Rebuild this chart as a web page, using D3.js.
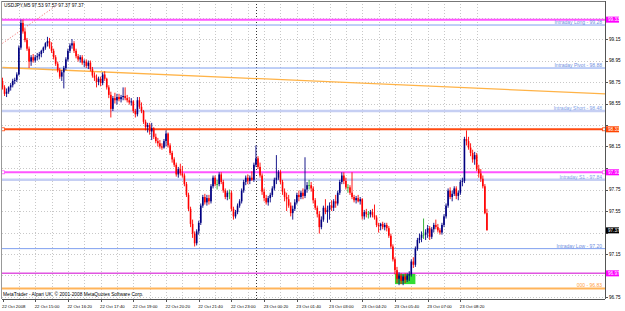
<!DOCTYPE html>
<html><head><meta charset="utf-8">
<script src="https://cdn.jsdelivr.net/npm/d3@7"></script>
<style>body{margin:0;background:#fff}svg{display:block}text{font-family:"Liberation Sans",Arial,sans-serif}</style>
</head><body><svg id="c" width="625" height="311"></svg>
<script>
const symbol = "USDJPY,M5";
const copyright = "MetaTrader - Alpari UK, \u00a9 2001-2008 MetaQuotes Software Corp.";
const dateLabels = ["22 Oct 2008","22 Oct 15:00","22 Oct 16:20","22 Oct 17:40","22 Oct 19:00","22 Oct 20:20","22 Oct 21:40","22 Oct 23:00","23 Oct 00:20","23 Oct 01:40","23 Oct 03:00","23 Oct 04:20","23 Oct 05:40","23 Oct 07:00","23 Oct 08:20"];
const priceTicks = [99.35,99.15,98.95,98.75,98.55,98.35,98.15,97.95,97.75,97.55,97.35,97.15,96.95,96.75];
const opens = [98.76,98.70,98.64,98.66,98.70,98.72,98.76,98.77,98.82,99.07,
99.30,99.22,99.14,99.06,98.94,98.98,98.95,98.98,98.99,99.01,
99.04,99.07,99.11,99.13,99.08,99.04,98.98,98.92,98.86,98.80,
98.84,98.88,98.96,99.04,99.09,99.11,99.04,98.99,98.96,98.98,
98.93,98.94,98.90,98.93,98.87,98.81,98.79,98.75,98.78,98.74,
98.82,98.78,98.70,98.63,98.50,98.60,98.58,98.61,98.59,98.61,
98.62,98.60,98.58,98.56,98.57,98.48,98.45,98.58,98.52,98.48,
98.38,98.33,98.35,98.29,98.32,98.24,98.20,98.18,98.15,98.14,
98.20,98.27,98.16,98.09,98.03,97.98,97.89,97.94,97.90,97.88,
97.80,97.70,97.57,97.43,97.34,97.25,97.36,97.44,97.60,97.68,
97.63,97.67,97.64,97.78,97.86,97.80,97.80,97.89,97.82,97.74,
97.68,97.72,97.72,97.57,97.50,97.54,97.60,97.64,97.74,97.82,
97.86,97.83,97.86,97.84,97.98,98.04,97.96,97.88,97.73,97.67,
97.63,97.67,97.70,97.76,97.84,97.86,97.91,97.82,97.73,97.68,
97.66,97.60,97.53,97.57,97.63,97.70,97.68,97.72,97.69,97.75,
97.79,97.79,97.76,97.65,97.58,97.52,97.40,97.47,97.58,97.54,
97.56,97.60,97.58,97.64,97.62,97.72,97.82,97.88,97.83,97.77,
97.77,97.72,97.68,97.65,97.67,97.64,97.66,97.50,97.54,97.52,
97.52,97.54,97.51,97.49,97.42,97.41,97.43,97.40,97.42,97.39,
97.32,97.22,97.10,97.00,96.92,96.95,96.90,96.94,96.91,96.95,
96.96,97.08,97.05,97.20,97.28,97.30,97.33,97.33,97.35,97.39,
97.31,97.38,97.42,97.40,97.37,97.35,97.42,97.50,97.60,97.74,
97.68,97.71,97.76,97.69,97.72,97.82,97.83,98.22,98.20,98.14,
98.09,98.03,98.07,97.94,97.90,97.85,97.78,97.53];
const highs = [98.79,98.72,98.69,98.71,98.74,98.78,98.79,98.84,99.09,99.33,
99.33,99.25,99.16,99.08,99.00,99.01,99.00,99.02,99.03,99.05,
99.08,99.12,99.17,99.16,99.12,99.06,99.00,98.94,98.88,98.86,
98.90,98.98,99.06,99.11,99.15,99.13,99.06,99.01,99.00,99.00,
98.96,98.96,98.95,98.95,98.89,98.84,98.82,98.80,98.80,98.84,
98.85,98.79,98.72,98.66,98.62,98.65,98.64,98.64,98.63,98.70,
98.70,98.63,98.61,98.60,98.58,98.50,98.61,98.61,98.56,98.49,
98.40,98.37,98.37,98.37,98.33,98.27,98.23,98.21,98.18,98.22,
98.30,98.28,98.18,98.11,98.05,98.00,97.96,97.99,97.97,97.90,
97.82,97.72,97.59,97.47,97.36,97.38,97.46,97.62,97.70,97.71,
97.70,97.70,97.80,97.88,97.88,97.84,97.91,97.91,97.84,97.76,
97.74,97.75,97.74,97.59,97.56,97.62,97.66,97.76,97.84,97.88,
97.89,97.88,97.92,98.00,98.16,98.06,98.00,97.90,97.76,97.70,
97.69,97.72,97.78,97.86,98.07,97.93,97.93,97.84,97.76,97.72,
97.70,97.63,97.60,97.66,97.72,97.74,97.74,97.76,98.05,97.82,
97.84,97.82,97.78,97.67,97.60,97.55,97.50,97.60,97.66,97.60,
97.63,97.65,97.66,97.70,97.74,97.84,97.91,97.91,97.86,97.80,
97.79,97.91,97.70,97.69,97.70,97.68,97.67,97.56,97.57,97.55,
97.56,97.57,97.61,97.51,97.44,97.44,97.45,97.44,97.44,97.41,
97.34,97.24,97.12,97.03,96.98,96.97,96.96,96.97,96.97,96.99,
97.10,97.12,97.22,97.30,97.34,97.36,97.48,97.38,97.42,97.41,
97.40,97.44,97.47,97.43,97.39,97.44,97.52,97.62,97.76,97.77,
97.74,97.78,97.78,97.74,97.84,97.86,98.24,98.30,98.24,98.18,
98.12,98.10,98.09,97.98,97.94,97.88,97.80,97.57];
const lows = [98.68,98.62,98.61,98.64,98.67,98.70,98.73,98.75,98.81,99.05,
99.20,99.12,99.04,98.88,98.90,98.93,98.93,98.95,98.96,98.98,
99.02,99.05,99.08,99.06,99.02,98.96,98.90,98.84,98.78,98.76,
98.69,98.86,98.94,99.02,99.06,99.02,98.97,98.94,98.93,98.91,
98.89,98.88,98.87,98.85,98.79,98.76,98.70,98.72,98.71,98.72,
98.76,98.68,98.60,98.42,98.48,98.55,98.54,98.57,98.56,98.58,
98.58,98.56,98.54,98.53,98.46,98.42,98.43,98.50,98.46,98.36,
98.30,98.28,98.26,98.21,98.22,98.18,98.15,98.13,98.12,98.13,
98.15,98.14,98.07,98.00,97.96,97.87,97.86,97.88,97.86,97.78,
97.68,97.55,97.40,97.30,97.22,97.23,97.33,97.42,97.58,97.61,
97.60,97.61,97.62,97.76,97.78,97.75,97.78,97.80,97.72,97.66,
97.65,97.66,97.55,97.47,97.48,97.52,97.58,97.62,97.72,97.79,
97.80,97.80,97.83,97.82,97.96,97.94,97.86,97.70,97.64,97.61,
97.60,97.63,97.68,97.74,97.80,97.84,97.80,97.70,97.64,97.55,
97.58,97.50,97.47,97.55,97.61,97.64,97.66,97.66,97.67,97.72,
97.75,97.73,97.62,97.56,97.49,97.34,97.38,97.45,97.52,97.44,
97.47,97.55,97.55,97.58,97.60,97.70,97.80,97.80,97.75,97.72,
97.70,97.66,97.63,97.62,97.63,97.61,97.47,97.47,97.49,97.48,
97.49,97.49,97.47,97.40,97.35,97.37,97.38,97.37,97.36,97.30,
97.20,97.08,96.96,96.88,96.86,96.87,96.86,96.88,96.89,96.90,
96.94,97.02,97.03,97.18,97.25,97.26,97.29,97.28,97.30,97.28,
97.29,97.35,97.38,97.35,97.33,97.33,97.40,97.48,97.58,97.66,
97.64,97.69,97.66,97.65,97.70,97.78,97.81,98.16,98.12,98.06,
98.00,97.98,97.92,97.86,97.82,97.76,97.52,97.37];
const closes = [98.70,98.64,98.66,98.70,98.72,98.76,98.77,98.82,99.07,99.30,
99.22,99.14,99.06,98.94,98.98,98.95,98.98,98.99,99.01,99.04,
99.07,99.11,99.13,99.08,99.04,98.98,98.92,98.86,98.80,98.84,
98.88,98.96,99.04,99.09,99.11,99.04,98.99,98.96,98.98,98.93,
98.94,98.90,98.93,98.87,98.81,98.79,98.75,98.78,98.74,98.82,
98.78,98.70,98.63,98.50,98.60,98.58,98.61,98.59,98.61,98.62,
98.60,98.58,98.56,98.57,98.48,98.45,98.58,98.52,98.48,98.38,
98.33,98.35,98.29,98.32,98.24,98.20,98.18,98.15,98.14,98.20,
98.27,98.16,98.09,98.03,97.98,97.89,97.94,97.90,97.88,97.80,
97.70,97.57,97.43,97.34,97.25,97.36,97.44,97.60,97.68,97.63,
97.67,97.64,97.78,97.86,97.80,97.80,97.89,97.82,97.74,97.68,
97.72,97.72,97.57,97.50,97.54,97.60,97.64,97.74,97.82,97.86,
97.83,97.86,97.84,97.98,98.04,97.96,97.88,97.73,97.67,97.63,
97.67,97.70,97.76,97.84,97.86,97.91,97.82,97.73,97.68,97.66,
97.60,97.53,97.57,97.63,97.70,97.68,97.72,97.69,97.75,97.79,
97.79,97.76,97.65,97.58,97.52,97.40,97.47,97.58,97.54,97.56,
97.60,97.58,97.64,97.62,97.72,97.82,97.88,97.83,97.77,97.77,
97.72,97.68,97.65,97.67,97.64,97.66,97.50,97.54,97.52,97.52,
97.54,97.51,97.49,97.42,97.41,97.43,97.40,97.42,97.39,97.32,
97.22,97.10,97.00,96.92,96.95,96.90,96.94,96.91,96.95,96.96,
97.08,97.05,97.20,97.28,97.30,97.33,97.33,97.35,97.39,97.31,
97.38,97.42,97.40,97.37,97.35,97.42,97.50,97.60,97.74,97.68,
97.71,97.76,97.69,97.72,97.82,97.83,98.22,98.20,98.14,98.09,
98.03,98.07,97.94,97.90,97.85,97.78,97.53,97.37];

// horizontal level objects
const levelNames  = ["hi","Intraday Long","Intraday Pivot","Intraday Short","res","mid","Intraday S1","Intraday Low","lo","000"];
const levelValues = [99.33, 99.28, 98.88, 98.48, 98.31, 97.91, 97.84, 97.20, 96.97, 96.83];
const levelKinds  = ["mag","pivot","pivot","pale","red","mag","pale","pivot","mag2","orange"];
// trend lines: [barIndex, price]
const trendOrange = [[0, 98.885],[295, 98.64]];
const trendRed    = [[0, 99.11],[27, 99.47]];
const boxBars   = [192, 202];
const boxPrices = [96.97, 96.87];
const separatorBar = 124;

const svg = d3.select("#c");
const L = 2, R = 605, T = 1, B = 299;
const x = d3.scaleLinear().domain([0, 1]).range([2.5, 2.5 + 2.044]);
const y = d3.scaleLinear().domain([99.15, 96.75]).range([39, 297]);

// grid
const g = svg.append("g").attr("shape-rendering","crispEdges");
g.selectAll(".hg").data(priceTicks).join("line")
  .attr("x1",L).attr("x2",R).attr("y1",d=>Math.round(y(d))+0.5).attr("y2",d=>Math.round(y(d))+0.5)
  .attr("stroke","#c8c8c8").attr("stroke-dasharray","1,2");
const vgrid = d3.range(0, 30).map(k=>k*8).filter(b=>x(b) < R && b>0);
g.selectAll(".vg").data(vgrid).join("line")
  .attr("x1",d=>Math.round(x(d))+0.5).attr("x2",d=>Math.round(x(d))+0.5).attr("y1",T).attr("y2",B)
  .attr("stroke","#c8c8c8").attr("stroke-dasharray","1,2");

// separator
g.append("line").attr("x1",Math.round(x(separatorBar))+0.5).attr("x2",Math.round(x(separatorBar))+0.5)
  .attr("y1",T).attr("y2",B).attr("stroke","#333").attr("stroke-dasharray","1,2");

// green box
svg.append("rect").attr("x",x(boxBars[0])).attr("y",y(boxPrices[0]))
  .attr("width",x(boxBars[1])-x(boxBars[0])).attr("height",y(boxPrices[1])-y(boxPrices[0]))
  .attr("fill","#33dd33");

// level lines
const kindStyle = {
  mag:{c:"#ff55ff",w:2,box:"#ff00ff"},
  mag2:{c:"#e055e0",w:1.5,box:"#ff00ff"},
  pivot:{c:"#7f9fef",w:1,text:"#6f8fe0"},
  pale:{c:"#c6cff3",w:2.5,text:"#7f9fe8"},
  red:{c:"#ff4a10",w:2,box:"#ff4500",sq:true},
  orange:{c:"#ffb45a",w:2,text:"#ffa040"}
};
const levels = levelValues.map((v,i)=>({v,name:levelNames[i],kind:levelKinds[i]}));
svg.append("g").selectAll("line").data(levels).join("line")
  .attr("x1",L).attr("x2",R).attr("y1",d=>y(d.v)).attr("y2",d=>y(d.v))
  .attr("stroke",d=>kindStyle[d.kind].c).attr("stroke-width",d=>kindStyle[d.kind].w);

// orange trendline
svg.append("line").attr("x1",x(trendOrange[0][0])).attr("y1",y(trendOrange[0][1]))
  .attr("x2",x(trendOrange[1][0])).attr("y2",y(trendOrange[1][1]))
  .attr("stroke","#ffb347").attr("stroke-width",1.3);
// red dotted trendline
svg.append("line").attr("x1",x(trendRed[0][0])).attr("y1",y(trendRed[0][1]))
  .attr("x2",x(trendRed[1][0])).attr("y2",y(trendRed[1][1]))
  .attr("stroke","#f06060").attr("stroke-width",1).attr("stroke-dasharray","1,2");

// level texts
svg.append("g").selectAll("text").data(levels.filter(d=>kindStyle[d.kind].text)).join("text")
  .attr("x",602).attr("y",d=>y(d.v)-1).attr("text-anchor","end")
  .attr("font-size",5).attr("fill",d=>kindStyle[d.kind].text)
  .text(d=>d.name+" - "+d.v.toFixed(2));

// small squares
const sqLevels = levels.filter(d=>d.kind==="red"||d.name==="mid");
svg.append("g").selectAll("rect").data(sqLevels.flatMap(d=>[{d,xx:L+1},{d,xx:R-1}])).join("rect")
  .attr("x",o=>o.xx-1.5).attr("y",o=>y(o.d.v)-1.5).attr("width",3).attr("height",3)
  .attr("fill","#fff").attr("stroke",o=>kindStyle[o.d.kind].c).attr("stroke-width",0.8);

// candles
const bars = closes.map((c,i)=>({i,o:opens[i],h:highs[i],l:lows[i],c}));
const col = d=> d.c>d.o ? "#000080" : d.c<d.o ? "#ff0000" : "#22aa22";
const cg = svg.append("g");
cg.selectAll(".wick").data(bars).join("line")
  .attr("x1",d=>x(d.i)).attr("x2",d=>x(d.i)).attr("y1",d=>y(d.h)).attr("y2",d=>y(d.l))
  .attr("stroke",col).attr("stroke-width",0.9);
cg.selectAll(".body").data(bars).join("rect")
  .attr("x",d=>x(d.i)-0.8).attr("width",1.6)
  .attr("y",d=>y(Math.max(d.o,d.c))).attr("height",d=>Math.max(0.8,Math.abs(y(d.o)-y(d.c))))
  .attr("fill",col);

// frame
const fr = svg.append("g").attr("shape-rendering","crispEdges");
fr.append("line").attr("x1",L).attr("x2",R).attr("y1",T+0.5).attr("y2",T+0.5).attr("stroke","#777");
fr.append("line").attr("x1",L-0.5).attr("x2",L-0.5).attr("y1",T).attr("y2",B).attr("stroke","#999");
fr.append("line").attr("x1",R+0.5).attr("x2",R+0.5).attr("y1",T).attr("y2",B).attr("stroke","#555");
fr.append("line").attr("x1",L).attr("x2",R).attr("y1",B+0.5).attr("y2",B+0.5).attr("stroke","#555");

// axis boxes
const boxes = levels.filter(d=>kindStyle[d.kind].box).map(d=>({v:d.v,fill:kindStyle[d.kind].box}));
boxes.push({v:closes[closes.length-1], fill:"#000"});

// price axis (labels hidden under axis boxes are skipped)
const visibleTicks = priceTicks.filter(t=>!boxes.some(b=>Math.abs(y(b.v)-y(t))<6));
svg.append("g").selectAll("text").data(visibleTicks).join("text")
  .attr("x",609).attr("y",d=>y(d)+1.8).attr("font-size",4.6).attr("fill","#000")
  .text(d=>d.toFixed(2));
svg.append("g").attr("shape-rendering","crispEdges").selectAll("line").data(priceTicks).join("line")
  .attr("x1",R).attr("x2",R+3).attr("y1",d=>Math.round(y(d))+0.5).attr("y2",d=>Math.round(y(d))+0.5).attr("stroke","#555");

const bx = svg.append("g").selectAll("g").data(boxes).join("g");
bx.append("rect").attr("x",R+1).attr("y",d=>y(d.v)-3).attr("width",13).attr("height",6).attr("fill",d=>d.fill);
bx.append("text").attr("x",R+3).attr("y",d=>y(d.v)+1.8).attr("font-size",4.6).attr("fill","#fff").text(d=>d.v.toFixed(2));

// date axis
svg.append("g").selectAll("text").data(dateLabels).join("text")
  .attr("x",(d,k)=>x(k*16)-0.5).attr("y",308).attr("font-size",4.3).attr("fill","#000").text(d=>d);
svg.append("g").attr("shape-rendering","crispEdges").selectAll("line").data(dateLabels).join("line")
  .attr("x1",(d,k)=>Math.round(x(k*16))+0.5).attr("x2",(d,k)=>Math.round(x(k*16))+0.5)
  .attr("y1",B).attr("y2",B+3).attr("stroke","#555");

// titles
const last = bars[bars.length-1];
svg.append("text").attr("x",4).attr("y",7).attr("font-size",4.8).attr("fill","#000")
  .text(symbol+"  "+[last.o,last.h,last.l,last.c].map(v=>v.toFixed(2)).join(" "));
svg.append("text").attr("x",3).attr("y",296).attr("font-size",4.8).attr("fill","#000").text(copyright);
</script></body></html>
